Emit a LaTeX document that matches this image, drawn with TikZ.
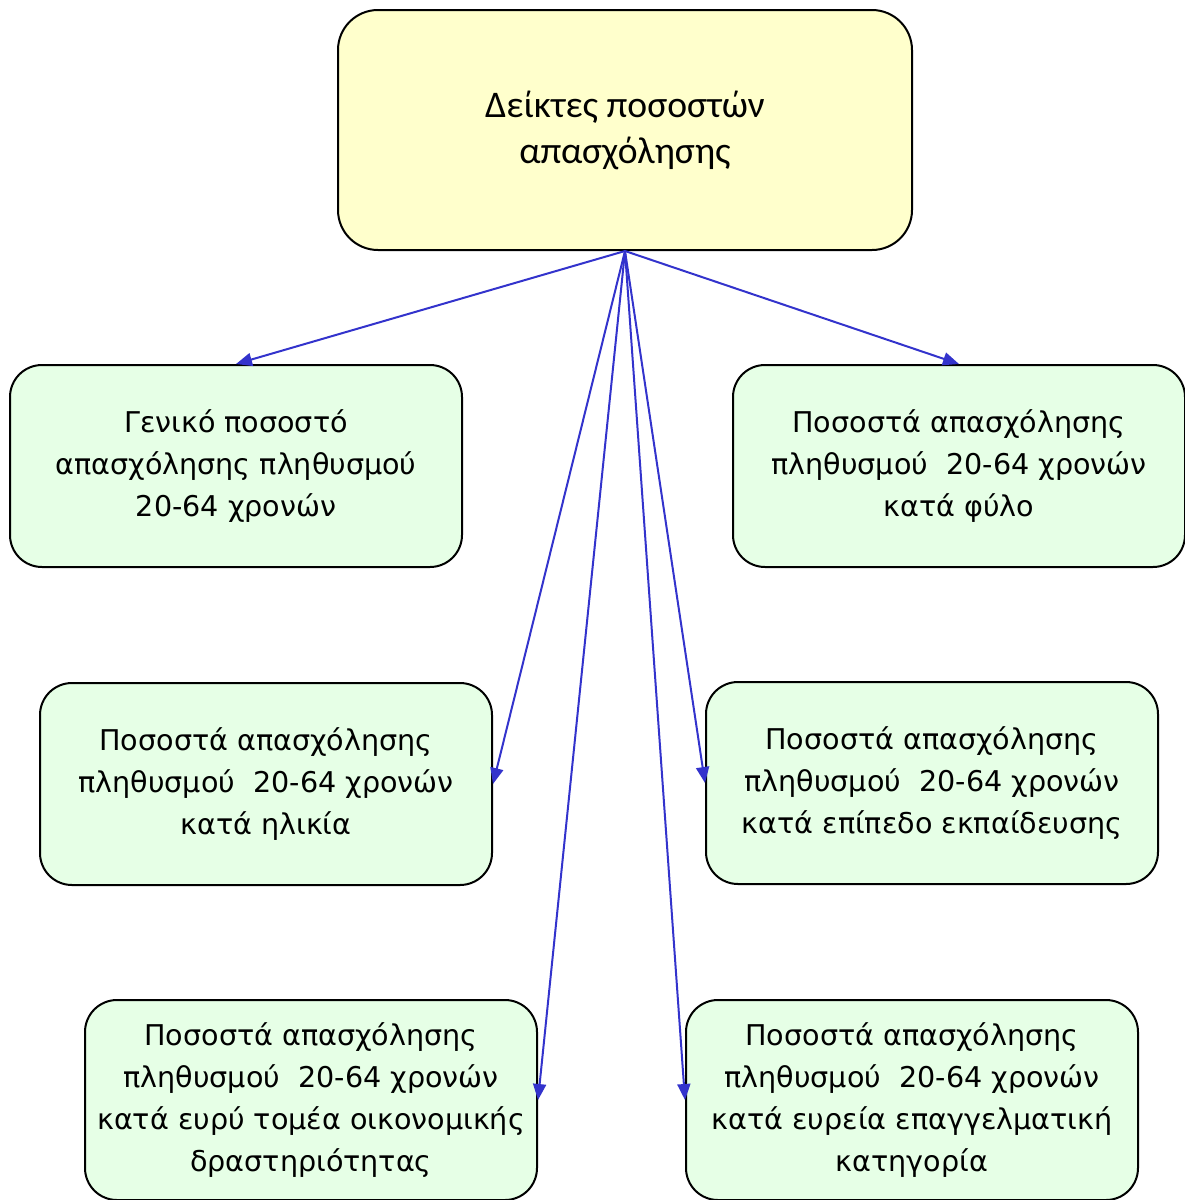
\documentclass[tikz,border=0pt]{standalone}
\usepackage{fontspec}
\setmainfont{DejaVu Sans}
\newfontfamily\titlefont{Carlito}
\definecolor{PaleYellow}{RGB}{255, 255, 204}
\definecolor{PaleGreen}{RGB}{230, 255, 230}
\definecolor{LinkBlue}{RGB}{51, 51, 204}
\usetikzlibrary{arrows.meta, positioning}

\begin{document}
\begin{tikzpicture}[
            x=0.5pt, y=-0.5pt,
            topbox/.style={rectangle, rounded corners=20pt, draw=black, line width=1pt, fill=PaleYellow,
                        minimum width=287pt, minimum height=120pt, inner sep=0pt, align=center,
                        font=\titlefont\fontsize{18.8}{23}\selectfont},
            box/.style={rectangle, rounded corners=16pt, draw=black, line width=1pt, fill=PaleGreen,
                        minimum width=226pt, minimum height=101pt, inner sep=0pt, align=center,
                        font=\fontsize{14.3}{21}\selectfont},
            arrow/.style={-{Triangle[length=8pt, width=6.5pt]}, line width=1pt, LinkBlue}
        ]
            \useasboundingbox (0,0) rectangle (1184,1200);
            \node[topbox] (top) at (625,130) {Δείκτες ποσοστών\\απασχόλησης};

            \node[box] (total) at (236,466) {Γενικό ποσοστό\\απασχόλησης πληθυσμού\\20-64 χρονών};
            \node[box] (sex) at (959,466) {Ποσοστά απασχόλησης\\πληθυσμού~ 20-64 χρονών\\κατά φύλο};
            \node[box] (age) at (266,784) {Ποσοστά απασχόλησης\\πληθυσμού~ 20-64 χρονών\\κατά ηλικία};
            \node[box] (edu) at (932,783) {Ποσοστά απασχόλησης\\πληθυσμού~ 20-64 χρονών\\κατά επίπεδο εκπαίδευσης};
            \node[box, minimum height=100pt] (sector) at (311,1100) {Ποσοστά απασχόλησης\\πληθυσμού~ 20-64 χρονών\\κατά ευρύ τομέα οικονομικής\\δραστηριότητας};
            \node[box, minimum height=100pt] (occup) at (912,1100) {Ποσοστά απασχόλησης\\πληθυσμού~ 20-64 χρονών\\κατά ευρεία επαγγελματική\\κατηγορία};

            \draw[arrow] (top.south) -- (total.north);
            \draw[arrow] (top.south) -- (sex.north);
            \draw[arrow] (top.south) -- (age.east);
            \draw[arrow] (top.south) -- (edu.west);
            \draw[arrow] (top.south) -- (sector.east);
            \draw[arrow] (top.south) -- (occup.west);
        \end{tikzpicture}
\end{document}
